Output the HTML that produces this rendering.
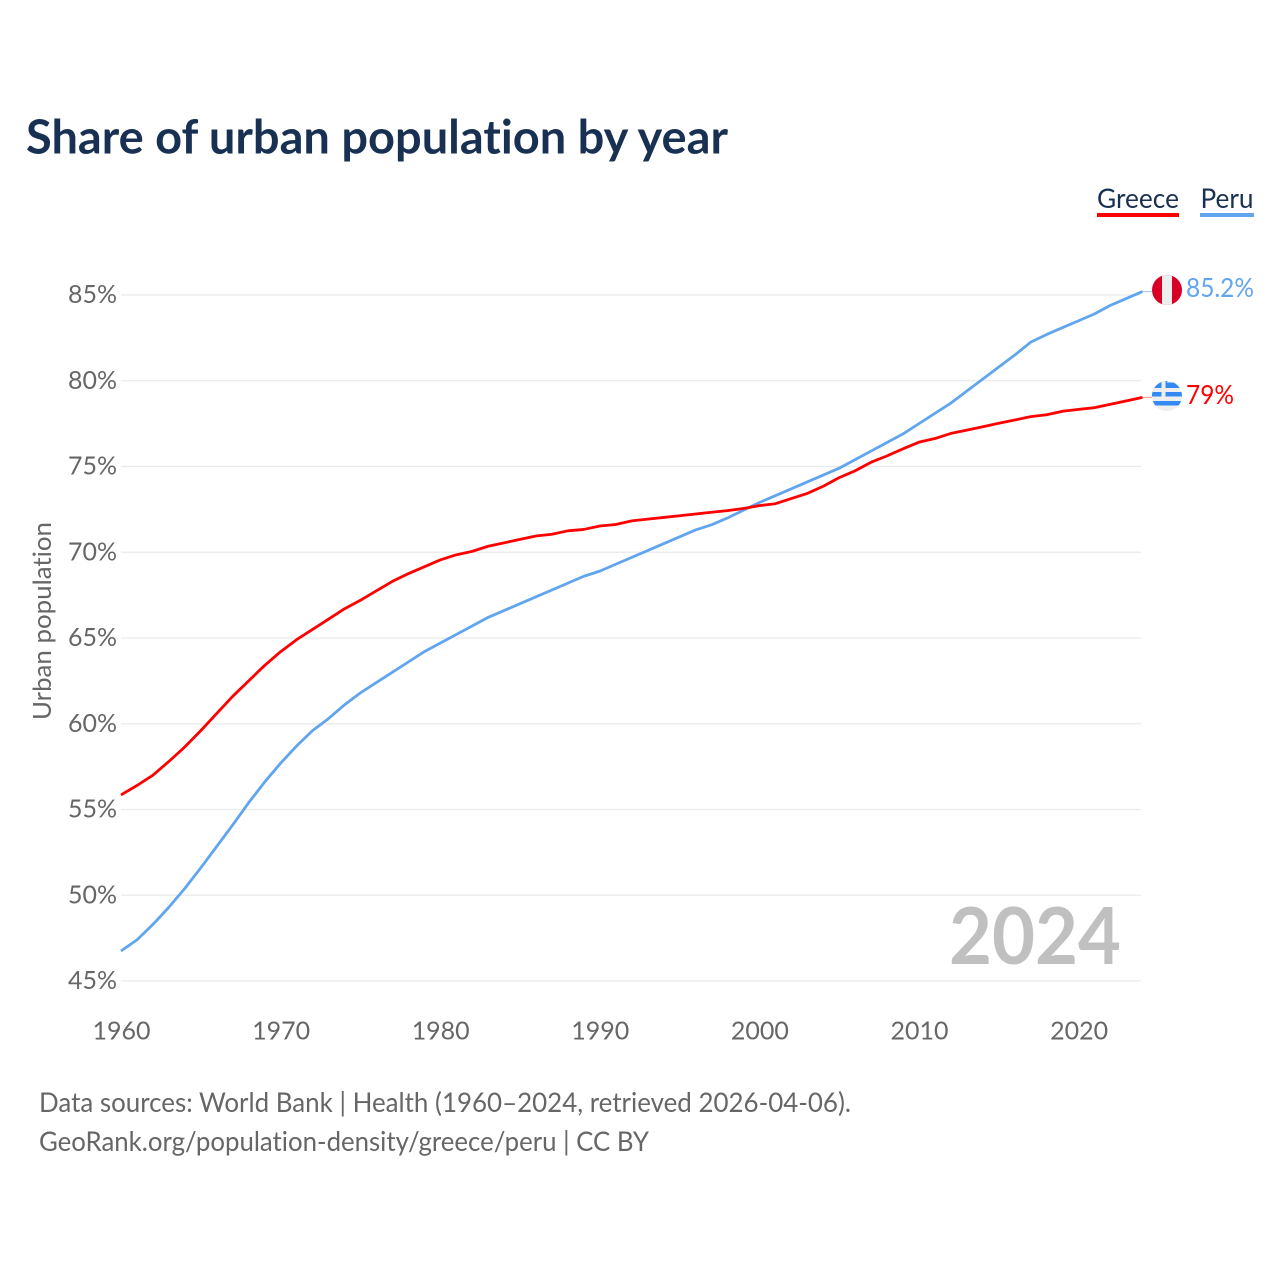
<!DOCTYPE html>
<html lang="en">
<head>
<meta charset="utf-8">
<title>Share of urban population by year</title>
<style>
html,body{margin:0;padding:0;background:#fff;width:1280px;height:1280px;overflow:hidden}
svg{display:block}
text{font-family:"Lato","Carlito","Liberation Sans",sans-serif;font-variant-ligatures:none}
</style>
</head>
<body>
<svg id="chart" width="1280" height="1280" viewBox="0 0 1280 1280" xmlns="http://www.w3.org/2000/svg">
<defs>
<clipPath id="flag-clip-peru"><circle cx="1167" cy="290" r="15"/></clipPath>
<clipPath id="flag-clip-greece"><circle cx="1167" cy="396" r="15"/></clipPath>
</defs>
<text x="26" y="153.5" font-size="47" font-weight="700" fill="#183153" textLength="702" lengthAdjust="spacingAndGlyphs">Share of urban population by year</text>
<g>
<g>
<text x="1097" y="208" font-size="27" fill="#183153" textLength="82" lengthAdjust="spacingAndGlyphs">Greece</text>
<rect x="1097" y="213" width="82" height="4" fill="#ff0000"/>
</g>
<g>
<text x="1200.5" y="208" font-size="27" fill="#183153" textLength="53" lengthAdjust="spacingAndGlyphs">Peru</text>
<rect x="1200" y="213" width="54" height="4" fill="#60a5ee"/>
</g>
</g>
<g id="grid"></g>
<g id="yticks"></g>
<g id="xticks"></g>
<text transform="translate(51,621) rotate(-90)" text-anchor="middle" font-size="25" fill="#666666" textLength="198" lengthAdjust="spacingAndGlyphs">Urban population</text>
<text x="1121" y="964" text-anchor="end" font-size="79" font-weight="700" fill="#c0c0c0" textLength="172" lengthAdjust="spacingAndGlyphs">2024</text>
<g id="series"></g>
<g clip-path="url(#flag-clip-peru)">
<rect x="1152" y="275" width="30" height="30" fill="#d80027"/>
<rect x="1162" y="275" width="10" height="30" fill="#eeeeee"/>
</g>
<g clip-path="url(#flag-clip-greece)">
<rect x="1152" y="381" width="30" height="30" fill="#eeeeee"/>
<rect x="1152" y="382.5" width="30" height="5.5" fill="#338af3"/>
<rect x="1152" y="392" width="30" height="4.5" fill="#338af3"/>
<rect x="1152" y="401" width="30" height="4.5" fill="#338af3"/>
<rect x="1152" y="381" width="15" height="15.5" fill="#338af3"/>
<rect x="1152" y="388" width="15" height="4" fill="#eeeeee"/>
<rect x="1161.5" y="381" width="4" height="15.5" fill="#eeeeee"/>
</g>
<text id="label-peru" x="1186" y="297" font-size="26" fill="#60a5ee" textLength="68" lengthAdjust="spacingAndGlyphs"></text>
<text id="label-greece" x="1186" y="404" font-size="26" fill="#ff0000" textLength="48" lengthAdjust="spacingAndGlyphs"></text>
<text x="39" y="1112" font-size="27" fill="#666666" textLength="812" lengthAdjust="spacingAndGlyphs">Data sources: World Bank | Health (1960–2024, retrieved 2026-04-06).</text>
<text x="39" y="1151" font-size="27" fill="#666666" textLength="610" lengthAdjust="spacingAndGlyphs">GeoRank.org/population-density/greece/peru | CC BY</text>
</svg>
<script>
const startYear = 1960;
const greeceValues = [55.85,56.4,57.0,57.8,58.65,59.6,60.6,61.6,62.5,63.4,64.2,64.9,65.5,66.1,66.7,67.2,67.75,68.3,68.75,69.15,69.55,69.85,70.05,70.35,70.55,70.75,70.95,71.05,71.25,71.33,71.53,71.62,71.83,71.93,72.03,72.13,72.23,72.33,72.43,72.55,72.72,72.83,73.13,73.43,73.85,74.35,74.75,75.25,75.62,76.03,76.42,76.63,76.93,77.12,77.32,77.52,77.71,77.91,78.02,78.22,78.33,78.43,78.63,78.83,79.03];
const peruValues = [46.75,47.4,48.3,49.3,50.4,51.6,52.85,54.1,55.4,56.6,57.7,58.7,59.6,60.3,61.1,61.8,62.4,63.0,63.6,64.2,64.7,65.2,65.7,66.2,66.6,67.0,67.4,67.8,68.2,68.6,68.9,69.3,69.7,70.1,70.5,70.9,71.3,71.6,72.0,72.45,72.9,73.3,73.7,74.1,74.5,74.9,75.4,75.9,76.4,76.9,77.5,78.1,78.7,79.4,80.1,80.8,81.5,82.25,82.7,83.1,83.5,83.9,84.4,84.8,85.2];
const yTickValues = [45,50,55,60,65,70,75,80,85];
const xTickYears = [1960,1970,1980,1990,2000,2010,2020];
const greeceEndLabel = "79%";
const peruEndLabel = "85.2%";

const NS = "http://www.w3.org/2000/svg";
function xScale(year){ return 121 + (year - 1960) * 15.96; }
function yScale(value){ return 981 - (value - 45) * 17.15; }
function seriesPath(values){
  return values.map(function(v,i){
    return (i ? "L" : "M") + xScale(startYear + i).toFixed(2) + " " + yScale(v).toFixed(2);
  }).join(" ");
}

const grid = document.getElementById("grid");
const yticks = document.getElementById("yticks");
yTickValues.forEach(function(v){
  const line = document.createElementNS(NS,"line");
  
  
  line.setAttribute("x1", 121);
  line.setAttribute("x2", 1141);
  line.setAttribute("y1", yScale(v));
  line.setAttribute("y2", yScale(v));
  line.setAttribute("stroke", "#eaeaea");
  line.setAttribute("stroke-width", 1.3);
  grid.appendChild(line);
  const t = document.createElementNS(NS,"text");
  
  
  t.setAttribute("x", 117);
  t.setAttribute("y", yScale(v) + 8);
  t.setAttribute("text-anchor", "end");
  t.setAttribute("font-size", 25.5);
  t.setAttribute("fill", "#666666");
  t.setAttribute("textLength", 49);
  t.setAttribute("lengthAdjust", "spacingAndGlyphs");
  t.textContent = v + "%";
  yticks.appendChild(t);
});

const xticks = document.getElementById("xticks");
xTickYears.forEach(function(y){
  const t = document.createElementNS(NS,"text");
  
  
  t.setAttribute("x", xScale(y) + 0.5);
  t.setAttribute("y", 1039.5);
  t.setAttribute("text-anchor", "middle");
  t.setAttribute("font-size", 25.5);
  t.setAttribute("fill", "#666666");
  t.setAttribute("textLength", 58);
  t.setAttribute("lengthAdjust", "spacingAndGlyphs");
  t.textContent = y;
  xticks.appendChild(t);
});

const series = document.getElementById("series");
const peruLine = document.createElementNS(NS,"path");


peruLine.setAttribute("d", seriesPath(peruValues));
peruLine.setAttribute("fill", "none");
peruLine.setAttribute("stroke", "#60a5ee");
peruLine.setAttribute("stroke-width", 2.8);
peruLine.setAttribute("stroke-linejoin", "round");
series.appendChild(peruLine);

const greeceLine = document.createElementNS(NS,"path");


greeceLine.setAttribute("d", seriesPath(greeceValues));
greeceLine.setAttribute("fill", "none");
greeceLine.setAttribute("stroke", "#ff0000");
greeceLine.setAttribute("stroke-width", 2.8);
greeceLine.setAttribute("stroke-linejoin", "round");
series.appendChild(greeceLine);

const peruLead = document.createElementNS(NS,"line");


peruLead.setAttribute("x1", xScale(2024));
peruLead.setAttribute("x2", 1152);
peruLead.setAttribute("y1", yScale(peruValues[peruValues.length-1]));
peruLead.setAttribute("y2", yScale(peruValues[peruValues.length-1]));
peruLead.setAttribute("stroke", "#a0c9f5");
peruLead.setAttribute("stroke-width", 1);
series.appendChild(peruLead);

const greeceLead = document.createElementNS(NS,"line");


greeceLead.setAttribute("x1", xScale(2024));
greeceLead.setAttribute("x2", 1152);
greeceLead.setAttribute("y1", yScale(greeceValues[greeceValues.length-1]));
greeceLead.setAttribute("y2", yScale(greeceValues[greeceValues.length-1]));
greeceLead.setAttribute("stroke", "#ff9090");
greeceLead.setAttribute("stroke-width", 1);
series.appendChild(greeceLead);

document.getElementById("label-peru").textContent = peruEndLabel;
document.getElementById("label-greece").textContent = greeceEndLabel;
</script>
</body>
</html>
